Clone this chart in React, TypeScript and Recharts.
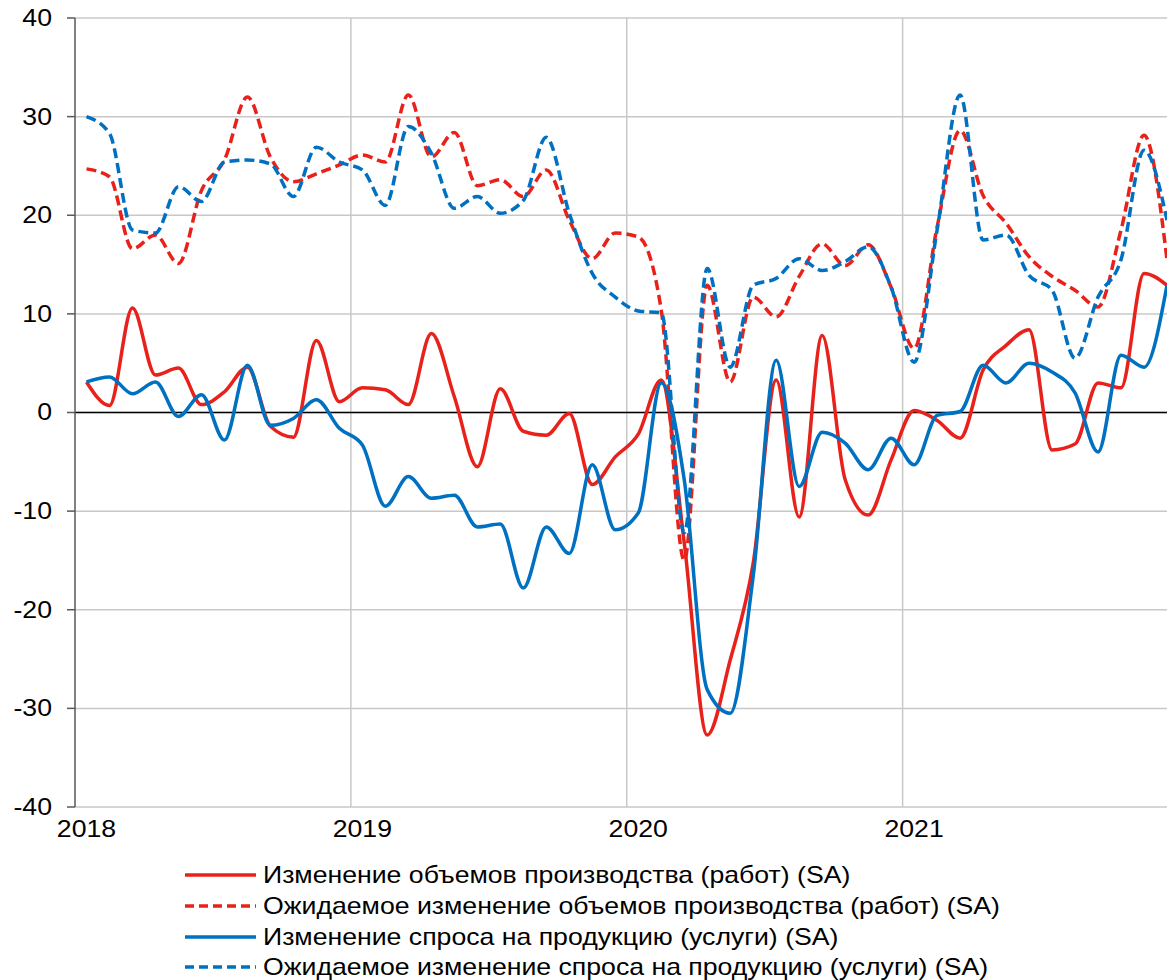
import React from 'react';
import { LineChart, Line, XAxis, YAxis, CartesianGrid, ReferenceLine } from 'recharts';

// monthly survey balances, Jan 2018 .. Dec 2021
const years = ['2018', '2019', '2020', '2021'];

const outputChange = [
  3.1, 0.7, 10.6, 3.8, 4.5, 0.8, 2.1, 4.6, -1.4, -2.5, 7.3, 1.1,
  2.5, 2.3, 0.8, 8.0, 1.6, -5.5, 2.4, -1.9, -2.3, -0.1, -7.3, -4.5,
  -2.2, 3.3, -13.2, -32.7, -25.1, -15.3, 3.3, -10.6, 7.8, -6.8, -10.4, -4.8,
  0.2, -0.8, -2.6, 4.3, 6.8, 8.4, -3.8, -3.2, 3.0, 2.5, 14.1, 12.9,
];

const outputExpected = [
  24.7, 23.9, 16.6, 18.0, 15.1, 22.5, 25.6, 32.0, 25.9, 23.4, 24.2, 25.1,
  26.1, 25.4, 32.2, 25.9, 28.4, 23.0, 23.6, 21.9, 24.6, 19.5, 15.6, 18.2,
  17.8, 10.4, -15.0, 12.9, 3.1, 11.7, 9.7, 13.8, 17.1, 14.9, 17.0, 12.7,
  6.5, 18.8, 28.6, 22.0, 19.2, 15.8, 13.8, 12.4, 10.7, 18.5, 28.1, 15.5,
];

const demandChange = [
  3.1, 3.6, 1.9, 3.1, -0.4, 1.8, -2.8, 4.8, -1.3, -0.6, 1.3, -1.6,
  -3.3, -9.5, -6.5, -8.7, -8.4, -11.6, -11.3, -17.8, -11.6, -14.3, -5.3, -11.9,
  -10.2, 3.0, -6.8, -28.1, -30.5, -16.6, 5.3, -7.5, -2.0, -3.1, -5.8, -2.6,
  -5.3, -0.3, 0.1, 4.8, 3.0, 5.0, 4.1, 2.0, -4.0, 5.8, 4.6, 12.9,
];

const demandExpected = [
  30.0, 28.3, 18.5, 18.2, 22.9, 21.4, 25.4, 25.6, 25.2, 21.9, 26.9, 25.4,
  24.6, 21.0, 29.0, 26.3, 20.7, 21.9, 20.2, 21.5, 27.9, 20.2, 14.1, 11.7,
  10.3, 10.1, -12.2, 14.6, 4.6, 12.9, 13.6, 15.6, 14.4, 15.3, 16.8, 12.7,
  5.1, 18.5, 32.2, 17.5, 18.0, 13.9, 12.4, 5.5, 11.7, 15.5, 26.6, 19.5,
];

const yTicks = [-40, -30, -20, -10, 0, 10, 20, 30, 40];

const RED = '#e8221b';
const BLUE = '#0070c0';

const series = [
  { key: 'outputChange', name: 'Изменение объемов производства (работ) (SA)', color: RED, dash: undefined },
  { key: 'outputExpected', name: 'Ожидаемое изменение объемов производства (работ) (SA)', color: RED, dash: '10 5' },
  { key: 'demandChange', name: 'Изменение спроса на продукцию (услуги) (SA)', color: BLUE, dash: undefined },
  { key: 'demandExpected', name: 'Ожидаемое изменение спроса на продукцию (услуги) (SA)', color: BLUE, dash: '10 5' },
];

// each month sits in the middle of its slot
const data = outputChange.map((v, i) => ({
  t: i + 0.5,
  outputChange: v,
  outputExpected: outputExpected[i],
  demandChange: demandChange[i],
  demandExpected: demandExpected[i],
}));

const font = '"Liberation Sans", Arial, sans-serif';
const STRETCH = 1.11; // the original text is a bit wider than Arial

const stretched = (x: number, y: number) => `translate(${x},${y}) scale(${STRETCH},1) translate(${-x},${-y})`;

const YTick = (props: any) => {
  const { x, y, payload } = props;
  return (
    <text x={x} y={y} dy={8} textAnchor="end" fontSize={24} fontFamily={font} fill="#000" transform={stretched(x, y)}>
      {payload.value}
    </text>
  );
};

const XTick = (props: any) => {
  const { x, y, payload } = props;
  return (
    <text x={x} y={y} dy={24} textAnchor="middle" fontSize={24} fontFamily={font} fill="#000" transform={stretched(x, y)}>
      {years[Math.floor(payload.value / 12)]}
    </text>
  );
};

const App: React.FC = () => {
  return (
    <div style={{ position: 'absolute', left: 0, top: 0, width: 1167, height: 980, background: '#fff', fontFamily: font }}>
      <LineChart width={1167} height={860} data={data} margin={{ top: 18, right: 0, left: 0, bottom: 0 }}>
        <CartesianGrid vertical={false} stroke="#c8c8c8" strokeWidth={1.5} />
        {[12, 24, 36].map((x) => (
          <ReferenceLine key={x} x={x} stroke="#c8c8c8" strokeWidth={1.5} />
        ))}
        <XAxis
          dataKey="t"
          type="number"
          domain={[0, 47.5]}
          allowDataOverflow
          ticks={[0.5, 12.5, 24.5, 36.5]}
          axisLine={false}
          tickLine={false}
          tickMargin={0}
          height={53}
          tick={<XTick />}
        />
        <YAxis
          type="number"
          domain={[-40, 40]}
          ticks={yTicks}
          width={75}
          stroke="#595959"
          strokeWidth={1.5}
          tickSize={8}
          tickMargin={15}
          tick={<YTick />}
        />
        <ReferenceLine y={0} stroke="#000" strokeWidth={1.5} />
        {series.map((s) => (
          <Line
            key={s.key}
            dataKey={s.key}
            name={s.name}
            type="monotone"
            stroke={s.color}
            strokeWidth={3.5}
            strokeDasharray={s.dash}
            dot={false}
            activeDot={false}
            isAnimationActive={false}
          />
        ))}
      </LineChart>
      <div style={{ position: 'absolute', left: 185, top: 860 }}>
        {series.map((s) => (
          <div key={s.key} style={{ display: 'flex', alignItems: 'center', height: 30.7 }}>
            <svg width={71} height={10} style={{ display: 'block' }}>
              <line x1={0} y1={5} x2={71} y2={5} stroke={s.color} strokeWidth={3.5} strokeDasharray={s.dash ? '9 5' : undefined} />
            </svg>
            <span
              style={{
                marginLeft: 7,
                fontSize: 24,
                color: '#000',
                whiteSpace: 'nowrap',
                lineHeight: '30px',
                display: 'inline-block',
                transform: `scaleX(${STRETCH})`,
                transformOrigin: 'left center',
              }}
            >
              {s.name}
            </span>
          </div>
        ))}
      </div>
    </div>
  );
};

export default App;
